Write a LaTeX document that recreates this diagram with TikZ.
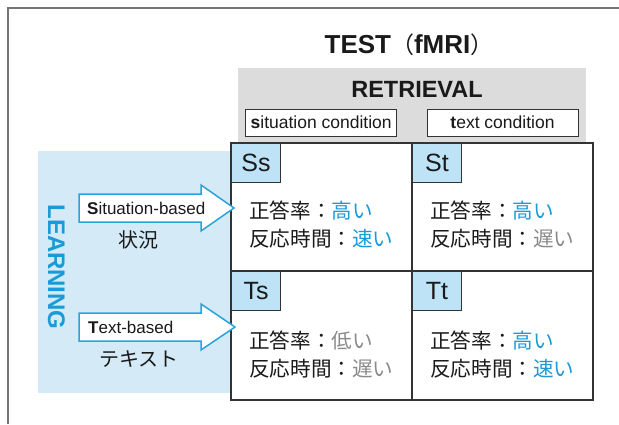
\documentclass[tikz,border=0pt]{standalone}
\usepackage{fontspec}
\setmainfont{Liberation Sans}
\newfontfamily\cjk{Noto Sans CJK JP}
\definecolor{hiblue}{HTML}{1A9AD6}
\definecolor{lowgray}{HTML}{8A8A8A}
\definecolor{inkc}{HTML}{1A1A1A}
\definecolor{panelblue}{HTML}{D4EAF7}
\definecolor{tagblue}{HTML}{BEE3F7}
\definecolor{boxgray}{HTML}{DCDCDC}
\definecolor{framec}{HTML}{777373}
\definecolor{gridc}{HTML}{333333}
\definecolor{arrowc}{HTML}{29A3DC}
\begin{document}
\begin{tikzpicture}[x=1pt,y=-1pt,
  condbox/.style={draw=gridc,line width=1pt,fill=white,inner sep=0pt,
    minimum width=151pt,minimum height=27pt,font=\fontsize{17.5}{20}\selectfont,text=inkc},
  tagbox/.style={draw=gridc,line width=1pt,fill=tagblue,inner sep=0pt,
    minimum width=49pt,minimum height=39pt,anchor=north west,
    font=\fontsize{25}{28}\selectfont,text=inkc},
  celltext/.style={anchor=west,inner sep=0pt,font=\cjk\fontsize{20.6}{24}\selectfont,text=inkc},
  arrowlabel/.style={anchor=west,inner sep=0pt,font=\fontsize{17}{20}\selectfont,text=inkc},
  jplabel/.style={inner sep=0pt,font=\cjk\fontsize{20}{24}\selectfont,text=inkc},
  blockarrow/.style={draw=arrowc,fill=white,line width=1.5pt,line join=miter}
]
\useasboundingbox (0,0) rectangle (619,424);
\fill[white] (0,0) rectangle (619,424);
\draw[framec,line width=1.5pt] (8,424) -- (8,8) -- (619,8);

% header
\node[anchor=base,inner sep=0pt,font=\bfseries\fontsize{26}{30}\selectfont,text=inkc] (test) at (409,53)
  {TEST{\cjk\mdseries\fontsize{23}{28}\selectfont （}fMRI{\cjk\mdseries\fontsize{23}{28}\selectfont ）}};
\fill[boxgray] (238,68) rectangle (586,143);
\node[anchor=base,inner sep=0pt,font=\bfseries\fontsize{23.5}{28}\selectfont,text=inkc] (retr) at (417,97) {RETRIEVAL};
\node[condbox] (sitc) at (321.2,122.5) {{\bfseries s}ituation condition};
\node[condbox] (texc) at (502.5,122.5) {{\bfseries t}ext condition};

% learning panel
\fill[panelblue] (38,151) rectangle (231,393);
\node[rotate=-90,inner sep=0pt,font=\bfseries\fontsize{24}{28}\selectfont,text=hiblue] (learn) at (56.5,267) {LEARNING};

% grid
\fill[white] (231,143) rectangle (593,400);
\draw[gridc,line width=1.2pt] (231,143) rectangle (593,400);
\draw[gridc,line width=1.2pt] (412,143) -- (412,400);
\draw[gridc,line width=1.2pt] (231,271) -- (593,271);

\node[tagbox] (Ss) at (231,143) {Ss};
\node[tagbox] (St) at (412,143) {St};
\node[tagbox] (Ts) at (231,271) {Ts};
\node[tagbox] (Tt) at (412,271) {Tt};

\node[celltext] (ss1) at (249,211) {正答率：{\color{hiblue}高い}};
\node[celltext] (ss2) at (249,239) {反応時間：{\color{hiblue}速い}};
\node[celltext] (st1) at (430,211) {正答率：{\color{hiblue}高い}};
\node[celltext] (st2) at (430,239) {反応時間：{\color{lowgray}遅い}};
\node[celltext] (ts1) at (249,341) {正答率：{\color{lowgray}低い}};
\node[celltext] (ts2) at (249,369) {反応時間：{\color{lowgray}遅い}};
\node[celltext] (tt1) at (430,341) {正答率：{\color{hiblue}高い}};
\node[celltext] (tt2) at (430,369) {反応時間：{\color{hiblue}速い}};

% block arrows
\draw[blockarrow] (79,194) -- (201,194) -- (201,185) -- (234,208) -- (201,231) -- (201,222) -- (79,222) -- cycle;
\draw[blockarrow] (79,313) -- (201,313) -- (201,304) -- (235,327) -- (201,350) -- (201,341) -- (79,341) -- cycle;

\node[arrowlabel] (sb) at (87,208) {{\bfseries S}ituation-based};
\node[jplabel] (sbj) at (138,240) {状況};
\node[arrowlabel] (tb) at (88,327) {{\bfseries T}ext-based};
\node[jplabel] (tbj) at (139,359) {テキスト};
\end{tikzpicture}
\end{document}
